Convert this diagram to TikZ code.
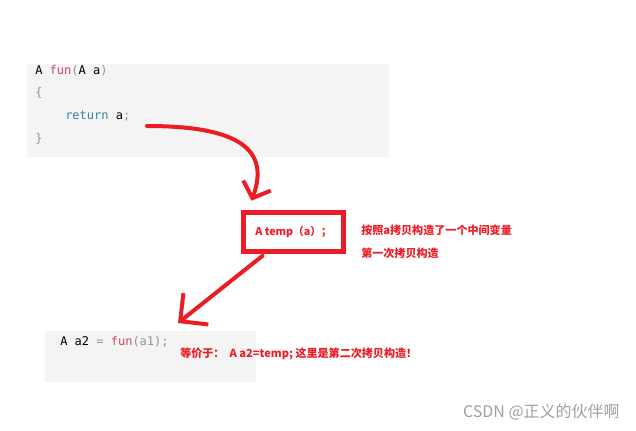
\documentclass[tikz,border=0pt]{standalone}
\usepackage{fontspec}
\setmonofont{DejaVu Sans Mono}
\newfontfamily\cjk{Noto Sans CJK SC}
\usetikzlibrary{arrows.meta,positioning}
\definecolor{markred}{HTML}{ED1C24}
\definecolor{codebg}{HTML}{F4F4F4}
\definecolor{codepink}{HTML}{CA4A64}
\definecolor{codeblue}{HTML}{3D7EA6}
\definecolor{codegray}{HTML}{8C96A0}
\definecolor{markgray}{HTML}{A0A0A0}

\begin{document}
\begin{tikzpicture}[x=0.75pt, y=-0.75pt,
  code/.style={anchor=west, inner sep=0pt, font=\ttfamily\fontsize{9}{10}\selectfont},
  note/.style={anchor=west, inner sep=0pt, text=markred, font=\cjk\bfseries\fontsize{8.3}{10}\selectfont},
  pen/.style={markred, line width=3pt, line cap=round}]
\useasboundingbox (0,0) rectangle (636,431);
% code block: definition of fun
\fill[codebg] (27,64) rectangle (389,157);
\node[code] (sig) at (35,71) {A \textcolor{codepink}{fun}\textcolor{codegray}{(}A a\textcolor{codegray}{)}};
\node[code] (open) at (35,93) {\textcolor{codegray}{\{}};
\node[code] (ret) at (65,116) {\textcolor{codeblue}{return} a\textcolor{codegray}{;}};
\node[code] (close) at (35,139) {\textcolor{codegray}{\}}};
% the temporary object
\node[draw=markred, line width=3.75pt, minimum width=75pt, minimum height=29pt,
  text=markred, font=\cjk\bfseries\fontsize{8}{10}\selectfont] (temp) at (293.5,232) {A temp（a）；};
\node[note] (why) at (361,230) {按照a拷贝构造了一个中间变量};
\node[note] (first) at (361,253) {第一次拷贝构造};
% code block: the call
\fill[codebg] (45,331) rectangle (256,382);
\node[code] (call) at (60,342) {A a2 \textcolor{codegray}{=} \textcolor{codepink}{fun}\textcolor{codegray}{(a1);}};
\node[note] (equiv) at (180,354) {等价于：\ \ A a2=temp; 这里是第二次拷贝构造！};
% hand-drawn arrows
\coordinate (from1) at (147,126);
\coordinate (to2) at (178,323);
\draw[pen, -{Straight Barb[length=10pt,width=22pt]}] (from1)
  .. controls (240,126) and (270,150) .. ([shift={(10.5,-9.5)}]temp.north west);
\draw[pen, -{Straight Barb[length=15pt,width=30pt]}] ([shift={(-31,2)}]temp.south) -- (to2);
% watermark
\node[anchor=east, inner sep=0pt, text=markgray, font=\cjk\fontsize{12}{14}\selectfont] (mark) at (620,412) {CSDN @正义的伙伴啊};
\end{tikzpicture}
\end{document}
